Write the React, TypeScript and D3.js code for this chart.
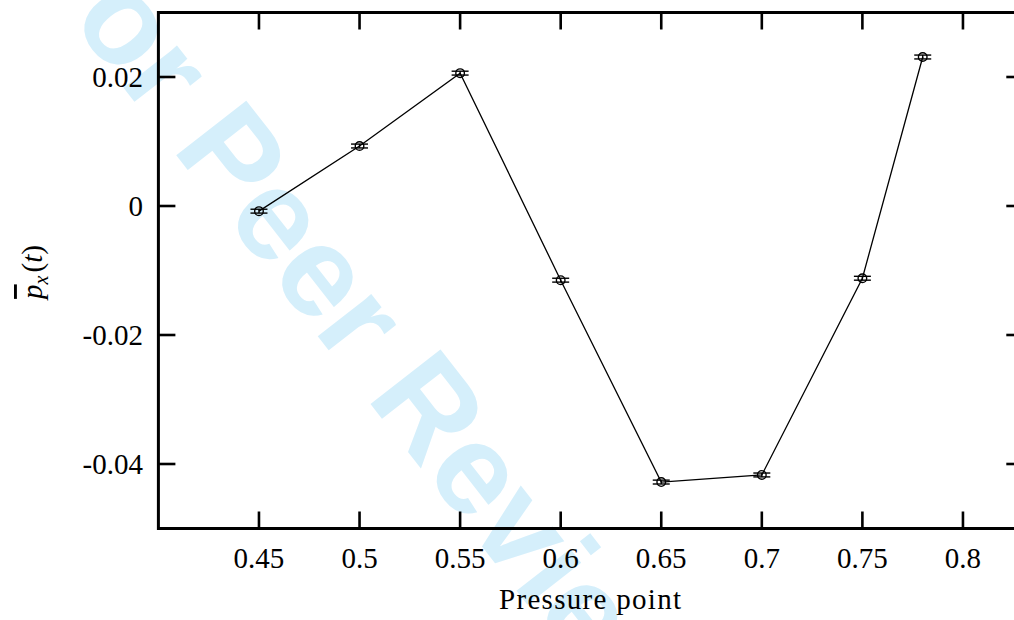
import React from "react";
import * as d3 from "d3";

const pressurePoints = [0.45, 0.5, 0.55, 0.6, 0.65, 0.7, 0.75, 0.78];
const meanPx = [-0.0008, 0.0093, 0.0206, -0.0115, -0.0428, -0.0417, -0.0112, 0.0231];
const errPx = [0.0003, 0.0003, 0.0003, 0.0003, 0.0003, 0.0003, 0.0003, 0.0003];
const xTicks = [0.45, 0.5, 0.55, 0.6, 0.65, 0.7, 0.75, 0.8];
const xTickLabels = ["0.45", "0.5", "0.55", "0.6", "0.65", "0.7", "0.75", "0.8"];
const yTicks = [0.02, 0, -0.02, -0.04];
const yTickLabels = ["0.02", "0", "-0.02", "-0.04"];

const W = 1014;
const H = 620;
const L = 158.4;
const R = 1023.3;
const T = 12.5;
const B = 528.5;
const FONT = "'Liberation Serif', 'DejaVu Serif', serif";

export default function App() {
  const x = d3.scaleLinear().domain([0.4, 0.83]).range([L, R]);
  const y = d3.scaleLinear().domain([-0.05, 0.03]).range([B, T]);
  const pts = pressurePoints.map((p, i) => ({ p, v: meanPx[i], e: errPx[i] }));
  const line = d3
    .line<{ p: number; v: number }>()
    .x((d) => x(d.p))
    .y((d) => y(d.v));
  const tickLen = 17;
  const capW = 8.5;

  return (
    <svg
      width={W}
      height={H}
      style={{ position: "absolute", left: 0, top: 0, background: "#fff" }}
      fontFamily={FONT}
    >
      <rect x={0} y={0} width={W} height={H} fill="#fff" />
      {/* watermark */}
      <text
        transform="translate(330,352) rotate(52)"
        textAnchor="middle"
        fontFamily="'Liberation Sans', Arial, sans-serif"
        fontWeight="bold"
        fontSize={129}
        fill="#d5effb"
      >
        For Peer Review
      </text>

      {/* data line */}
      <path d={line(pts) || ""} fill="none" stroke="#000" strokeWidth={1.3} />
      {pts.map((d, i) => (
        <g key={i} stroke="#000" strokeWidth={1.4} fill="none">
          <line x1={x(d.p)} x2={x(d.p)} y1={y(d.v - d.e)} y2={y(d.v + d.e)} />
          <line x1={x(d.p) - capW} x2={x(d.p) + capW} y1={y(d.v - d.e)} y2={y(d.v - d.e)} />
          <line x1={x(d.p) - capW} x2={x(d.p) + capW} y1={y(d.v + d.e)} y2={y(d.v + d.e)} />
          <circle cx={x(d.p)} cy={y(d.v)} r={4.3} />
        </g>
      ))}

      {/* ticks */}
      {xTicks.map((t, i) => (
        <g key={"xt" + i} stroke="#000" strokeWidth={2.6}>
          <line x1={x(t)} x2={x(t)} y1={B} y2={B - tickLen} />
          <line x1={x(t)} x2={x(t)} y1={T} y2={T + tickLen} />
        </g>
      ))}
      {yTicks.map((t, i) => (
        <g key={"yt" + i} stroke="#000" strokeWidth={2.6}>
          <line x1={L} x2={L + tickLen} y1={y(t)} y2={y(t)} />
          <line x1={R} x2={R - tickLen} y1={y(t)} y2={y(t)} />
        </g>
      ))}
      {/* frame */}
      <rect x={L} y={T} width={R - L} height={B - T} fill="none" stroke="#000" strokeWidth={3} />

      {/* tick labels */}
      {xTicks.map((t, i) => (
        <text key={"xl" + i} x={x(t)} y={568} textAnchor="middle" fontSize={29} fill="#000">
          {xTickLabels[i]}
        </text>
      ))}
      {yTicks.map((t, i) => (
        <text key={"yl" + i} x={143} y={y(t) + 10} textAnchor="end" fontSize={29} fill="#000">
          {yTickLabels[i]}
        </text>
      ))}

      {/* axis labels */}
      <text
        x={590}
        y={609}
        textAnchor="middle"
        fontSize={29}
        fill="#000"
        textLength={182}
        lengthAdjust="spacing"
      >
        Pressure point
      </text>
      <text transform="translate(42,272) rotate(-90)" textAnchor="middle" fontSize={29} fill="#000">
        <tspan fontStyle="italic" textDecoration="overline">p</tspan>
        <tspan fontStyle="italic" fontSize={20} dy={6}>x</tspan>
        <tspan dy={-6} dx={3}>(</tspan>
        <tspan fontStyle="italic">t</tspan>
        <tspan>)</tspan>
      </text>
    </svg>
  );
}
